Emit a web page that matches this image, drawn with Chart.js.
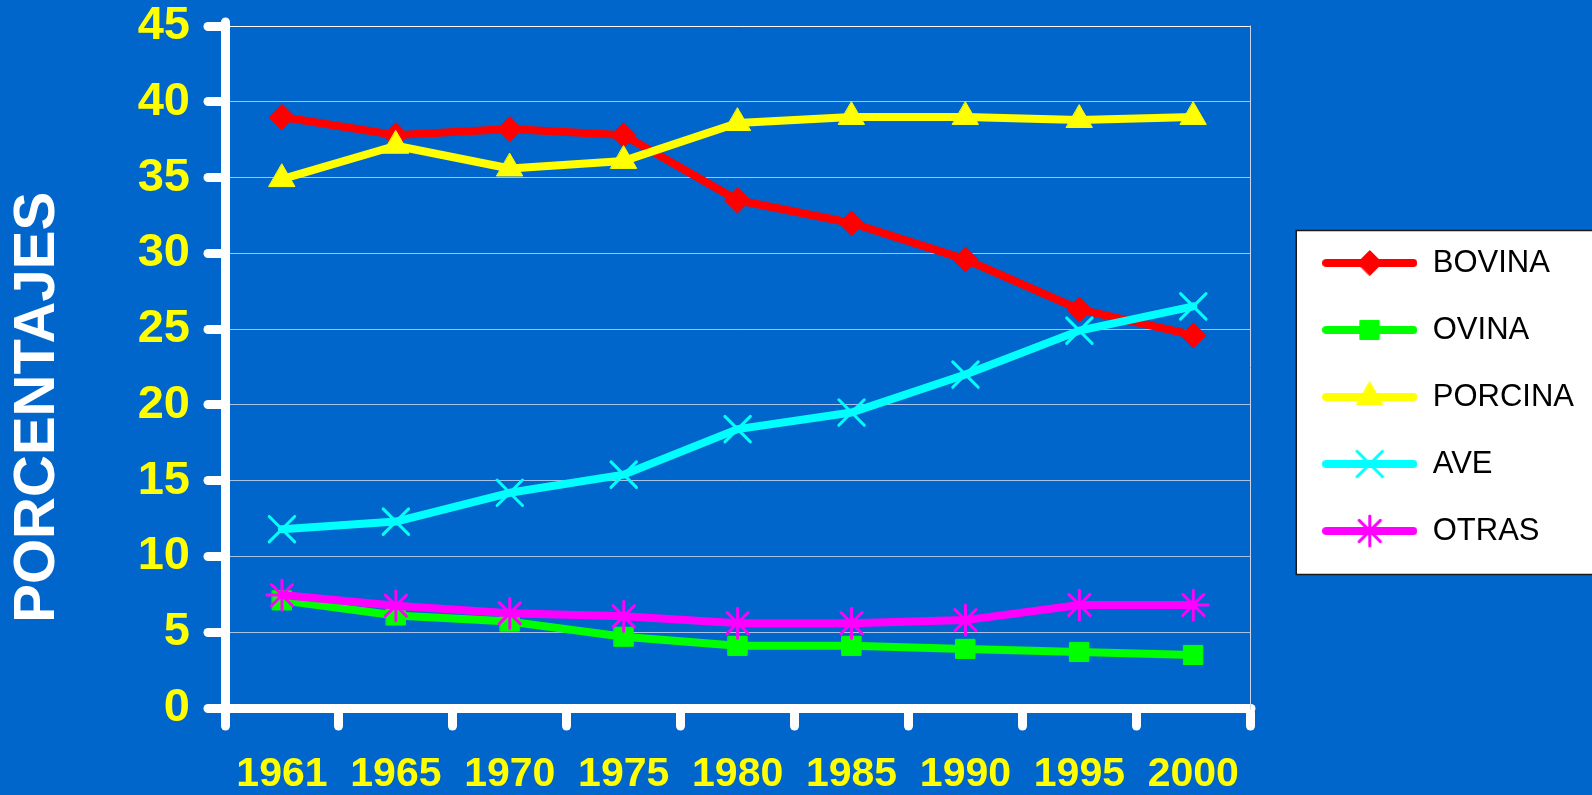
<!DOCTYPE html>
<html>
<head>
<meta charset="utf-8">
<script src="https://cdn.jsdelivr.net/npm/chart.js@4.4.0/dist/chart.umd.min.js"></script>
<style>
  html, body { margin: 0; padding: 0; background: #0066CC; }
  #wrap { width: 1592px; height: 795px; }
</style>
</head>
<body>
<div id="wrap"><canvas id="meatChart"></canvas></div>
<script>
// Data (percentages)
const years   = ['1961', '1965', '1970', '1975', '1980', '1985', '1990', '1995', '2000'];
const bovina  = [39.0, 37.8, 38.2, 37.8, 33.5, 32.0, 29.6, 26.3, 24.6];
const ovina   = [7.1, 6.1, 5.7, 4.7, 4.1, 4.1, 3.9, 3.7, 3.5];
const porcina = [34.9, 37.1, 35.6, 36.1, 38.6, 39.0, 39.0, 38.8, 39.0];
const ave     = [11.8, 12.3, 14.2, 15.4, 18.4, 19.5, 22.0, 24.9, 26.5];
const otras   = [7.45, 6.75, 6.25, 6.05, 5.6, 5.6, 5.8, 6.8, 6.8];
const yTickValues = [0, 5, 10, 15, 20, 25, 30, 35, 40, 45];

const FONT = "'Liberation Sans', Arial, sans-serif";
const BG = '#0066CC';

// legend icon: thick line with the marker in the middle
function makeLegendIcon(color, style, radius, bw) {
  const c = document.createElement('canvas');
  c.width = 95;
  c.height = 40;
  const g = c.getContext('2d');
  g.strokeStyle = color;
  g.fillStyle = color;
  g.lineCap = 'round';
  g.lineWidth = 8;
  g.beginPath();
  g.moveTo(4, 20);
  g.lineTo(91, 20);
  g.stroke();
  g.lineWidth = bw;
  if (Chart.helpers && Chart.helpers.drawPoint) {
    Chart.helpers.drawPoint(g, {pointStyle: style, radius: radius, borderWidth: bw, rotation: 0}, 47.5, 20);
  }
  return c;
}

function series(label, data, color, style, radius, bw, order) {
  return {
    label: label,
    data: data,
    borderColor: color,
    backgroundColor: color,
    borderWidth: 8,
    borderCapStyle: 'round',
    borderJoinStyle: 'round',
    tension: 0,
    pointStyle: style,
    pointRadius: radius,
    pointBackgroundColor: color,
    pointBorderColor: color,
    pointBorderWidth: bw,
    order: order,
    legendIcon: makeLegendIcon(color, style, radius, bw)
  };
}

const datasets = [
  series('BOVINA', bovina, '#FF0000', 'rectRot', 12.5, 1, 5),
  series('OVINA', ovina, '#00FF00', 'rect', 13.5, 1, 4),
  series('PORCINA', porcina, '#FFFF00', 'triangle', 15, 1, 3),
  series('AVE', ave, '#00FFFF', 'crossRot', 18, 3, 2),
  series('OTRAS', otras, '#FF00FF', 'star', 15, 3, 1)
];

// background + white legend box, round caps for axis ticks
const backdrop = {
  id: 'backdrop',
  beforeDraw(chart) {
    const {ctx, width, height, legend} = chart;
    ctx.save();
    ctx.fillStyle = BG;
    ctx.fillRect(0, 0, width, height);
    const boxes = legend.legendHitBoxes || [];
    if (boxes.length) {
      const last = boxes[boxes.length - 1];
      const top = boxes[0].top - 17;
      const bottom = last.top + last.height + 28;
      const left = legend.left + 10;
      ctx.fillStyle = '#FFFFFF';
      ctx.fillRect(left, top, width - left + 4, bottom - top);
      ctx.strokeStyle = '#1a1a1a';
      ctx.lineWidth = 1.5;
      ctx.strokeRect(left, top, width - left + 4, bottom - top);
    }
    ctx.restore();
    ctx.lineCap = 'round';
  },
  afterDraw(chart) {
    chart.ctx.lineCap = 'butt';
  }
};

const chart = new Chart(document.getElementById('meatChart'), {
  type: 'line',
  data: { labels: years, datasets: datasets },
  options: {
    responsive: true,
    maintainAspectRatio: false,
    animation: false,
    layout: { padding: { top: 26, right: 8, bottom: 0, left: 0 } },
    scales: {
      x: {
        offset: true,
        grid: {
          offset: true,
          drawOnChartArea: false,
          tickLength: 18,
          tickWidth: 9,
          tickColor: '#FFFFFF',
          color: '#FFFFFF'
        },
        border: { color: '#FFFFFF', width: 9 },
        ticks: {
          color: '#FFFF00',
          font: { family: FONT, size: 41, weight: 'bold' },
          padding: 24,
          maxRotation: 0,
          autoSkip: false
        },
        afterFit(s) { s.height = 87; s.paddingLeft = 0; s.paddingRight = 0; }
      },
      y: {
        min: 0,
        max: 45,
        afterBuildTicks(s) { s.ticks = yTickValues.map(v => ({ value: v })); },
        grid: {
          color: c => (c.tick && c.tick.value === 45) ? '#FFFFFF' : '#a9c3e6',
          lineWidth: 1,
          tickLength: 17,
          tickWidth: 9,
          tickColor: '#FFFFFF'
        },
        border: { color: '#FFFFFF', width: 9 },
        ticks: {
          color: '#FFFF00',
          font: { family: FONT, size: 47, weight: 'bold', lineHeight: 1 },
          padding: 18
        },
        title: {
          display: true,
          text: 'PORCENTAJES' + '\u00A0'.repeat(5),
          color: '#FFFFFF',
          font: { family: FONT, size: 58, weight: 'bold' },
          padding: { top: 3, bottom: 0 }
        },
        afterFit(s) { s.width = 225; s.paddingTop = 0; s.paddingBottom = 0; }
      },
      yEdge: {
        position: 'right',
        display: true,
        grid: { drawOnChartArea: false, drawTicks: false },
        border: { color: '#c9d6ea', width: 1 },
        ticks: { display: false },
        afterFit(s) { s.width = 36; s.paddingTop = 0; s.paddingBottom = 0; }
      }
    },
    plugins: {
      tooltip: { enabled: false },
      legend: {
        position: 'right',
        align: 'center',
        fullSize: false,
        maxWidth: 400,
        reverse: true,
        title: { display: true, text: '', font: { size: 50 }, padding: 0 },
        labels: {
          usePointStyle: true,
          pointStyleWidth: 95,
          padding: 36,
          color: '#000000',
          font: { family: FONT, size: 31 },
          generateLabels(ch) {
            const items = Chart.defaults.plugins.legend.labels.generateLabels(ch);
            items.forEach(it => { it.pointStyle = ch.data.datasets[it.datasetIndex].legendIcon; });
            return items;
          }
        }
      }
    }
  },
  plugins: [backdrop]
});
</script>
</body>
</html>
